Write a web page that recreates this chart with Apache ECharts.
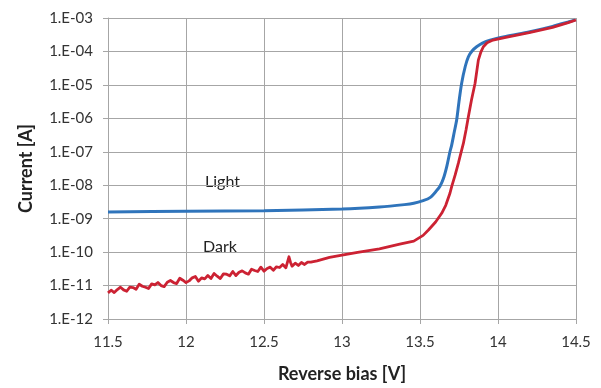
<!DOCTYPE html>
<html>
<head>
<meta charset="utf-8">
<script src="https://cdn.jsdelivr.net/npm/echarts@6/dist/echarts.min.js"></script>
<style>
html,body{margin:0;padding:0;background:#fff;}
#c{width:601px;height:388px;}
</style>
</head>
<body>
<div id="c"></div>
<script>
// X tick labels (Reverse bias, V)
var xTicks = [11.5, 12, 12.5, 13, 13.5, 14, 14.5];
// Y tick labels (Current, A) shown Excel style
var yTickLabels = ['1.E-12','1.E-11','1.E-10','1.E-09','1.E-08','1.E-07','1.E-06','1.E-05','1.E-04','1.E-03'];

// Light curve: voltage [V] and log10(current [A])
var lightV = [11.50,12.00,12.50,13.00,13.24,13.40,13.46,13.52,13.564,13.607,13.628,13.65,13.671,13.692,13.703,13.72,13.735,13.75,13.767,13.79,13.81,13.835,13.863,13.90,13.949,14.05,14.205,14.35,14.45,14.494];
var lightLog10I = [-8.80,-8.78,-8.76,-8.71,-8.65,-8.58,-8.54,-8.46,-8.37,-8.16,-8.03,-7.80,-7.45,-7.00,-6.80,-6.40,-6.05,-5.50,-4.95,-4.45,-4.16,-3.98,-3.86,-3.75,-3.66,-3.55,-3.41,-3.25,-3.12,-3.06];

// Dark curve: voltage [V] and log10(current [A])
var darkV = [11.50,11.52,11.54,11.56,11.58,11.60,11.62,11.64,11.66,11.68,11.70,11.72,11.74,11.76,11.78,11.80,11.82,11.84,11.86,11.88,11.90,11.92,11.94,11.96,11.98,12.00,12.02,12.04,12.06,12.08,12.10,12.12,12.14,12.16,12.18,12.20,12.22,12.24,12.26,12.28,12.30,12.32,12.34,12.36,12.38,12.40,12.42,12.44,12.46,12.48,12.50,12.52,12.54,12.56,12.58,12.60,12.62,12.64,12.66,12.67,12.68,12.70,12.72,12.74,12.76,12.78,12.80,12.84,12.88,12.92,13.00,13.10,13.24,13.37,13.46,13.52,13.554,13.60,13.639,13.665,13.692,13.703,13.725,13.746,13.756,13.778,13.795,13.81,13.83,13.853,13.874,13.89,13.906,13.93,13.968,14.05,14.20,14.35,14.45,14.50];
var darkLog10I = [-11.22,-11.14,-11.21,-11.12,-11.05,-11.13,-11.17,-11.05,-11.06,-11.11,-10.96,-11.02,-11.05,-11.09,-10.95,-10.98,-10.91,-11.00,-11.03,-10.90,-10.85,-10.91,-10.94,-10.78,-10.84,-10.91,-10.86,-10.77,-10.73,-10.87,-10.77,-10.80,-10.70,-10.79,-10.64,-10.72,-10.79,-10.65,-10.66,-10.71,-10.58,-10.70,-10.60,-10.56,-10.62,-10.66,-10.51,-10.55,-10.58,-10.45,-10.57,-10.49,-10.45,-10.54,-10.44,-10.46,-10.37,-10.47,-10.14,-10.31,-10.42,-10.33,-10.40,-10.31,-10.37,-10.30,-10.30,-10.26,-10.21,-10.16,-10.09,-10.01,-9.90,-9.76,-9.67,-9.50,-9.34,-9.10,-8.84,-8.60,-8.24,-8.04,-7.70,-7.34,-7.15,-6.75,-6.35,-5.95,-5.45,-4.95,-4.26,-4.02,-3.86,-3.74,-3.66,-3.58,-3.44,-3.28,-3.14,-3.06];

function pairs(xs, logs){
  return xs.map(function(x,i){ return [x, Math.pow(10, logs[i])]; });
}

var chart = echarts.init(document.getElementById('c'), null, {renderer:'canvas'});
var font = 'Lato, "Open Sans", sans-serif';
var gridColor = '#a6a6a6';
chart.setOption({
  animation:false,
  backgroundColor:'#ffffff',
  grid:{left:108, right:25, top:18, bottom:69, containLabel:false},
  xAxis:{
    type:'value', min:xTicks[0], max:xTicks[xTicks.length-1], interval:0.5,
    name:'Reverse bias [V]', nameLocation:'middle', nameGap:46,
    nameTextStyle:{fontFamily:font, fontSize:18, fontWeight:'bold', color:'#222'},
    axisLine:{show:true, lineStyle:{color:gridColor, width:1}},
    axisTick:{show:true, length:5, lineStyle:{color:gridColor}},
    axisLabel:{fontFamily:font, fontSize:15, color:'#333', margin:16,
      formatter:function(v){ return String(v); }},
    splitLine:{show:true, lineStyle:{color:gridColor, width:1}}
  },
  yAxis:{
    type:'log', logBase:10, min:1e-12, max:1e-3,
    name:'Current [A]', nameLocation:'middle', nameGap:73, nameRotate:90,
    nameTextStyle:{fontFamily:font, fontSize:18, fontWeight:'bold', color:'#222'},
    axisLine:{show:true, lineStyle:{color:gridColor, width:1}},
    axisTick:{show:true, length:5, lineStyle:{color:gridColor}},
    axisLabel:{fontFamily:font, fontSize:15, color:'#333', margin:15,
      formatter:function(v){ var e = Math.round(Math.log10(v)); return yTickLabels[e+12]; }},
    splitLine:{show:true, lineStyle:{color:gridColor, width:1}}
  },
  series:[
    {type:'line', name:'Light', data:pairs(lightV, lightLog10I), showSymbol:false, smooth:0.3,
     lineStyle:{color:'#2f74bb', width:3}, z:3},
    {type:'line', name:'Dark', data:pairs(darkV, darkLog10I), showSymbol:false, smooth:false,
     lineStyle:{color:'#cc2233', width:2.8, join:'round'}, z:4}
  ],
  graphic:[
    {type:'text', left:205, top:174, style:{text:'Light', font:'16px '+font, fill:'#222'}},
    {type:'text', left:203, top:239, style:{text:'Dark', font:'16px '+font, fill:'#222'}}
  ]
});
</script>
</body>
</html>
